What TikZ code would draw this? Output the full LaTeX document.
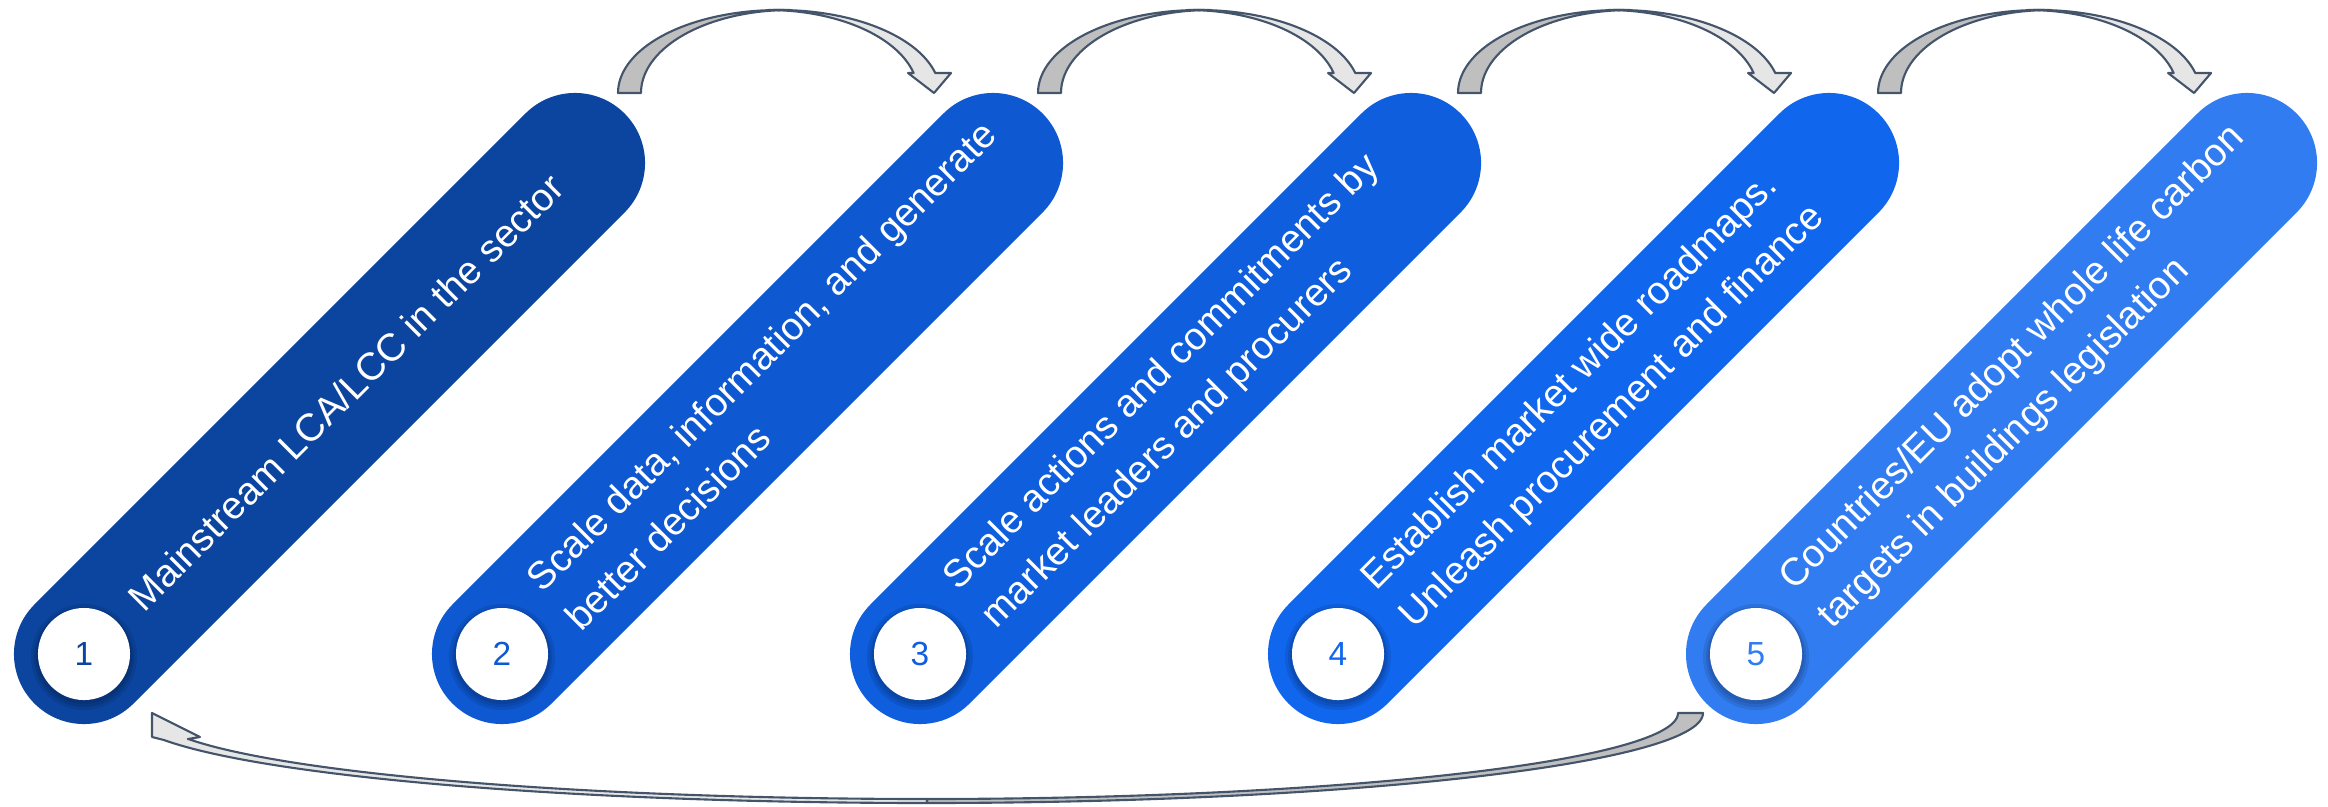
\documentclass[tikz,border=0pt]{standalone}
\usepackage{fontspec}
\setmainfont{Liberation Sans}
\definecolor{p1}{HTML}{0B45A0}
\definecolor{p2}{HTML}{0E58D2}
\definecolor{p3}{HTML}{0E5EDE}
\definecolor{p4}{HTML}{1166EE}
\definecolor{p5}{HTML}{317CF0}
\definecolor{arrline}{HTML}{44546A}
\definecolor{arrdark}{HTML}{BFBFBF}
\definecolor{arrlight}{HTML}{E7E6E6}
\begin{document}
\begin{tikzpicture}[x=0.01cm,y=-0.01cm,
  pill/.style={line width=1.4cm, line cap=round},
  numcirc/.style={circle, fill=white, minimum size=0.92cm, inner sep=0pt, font=\fontsize{9.5}{10}\selectfont},
  steptext/.style={anchor=west, rotate=45, align=left, text=white, inner sep=0pt, font=\fontsize{11}{15.6}\selectfont},
  shad/.style={fill=black, opacity=0.09},
  ribbon/.style={draw=arrline, line width=0.6pt, line join=round}]
\useasboundingbox (0,0) rectangle (2328,806);

% pill axes
\coordinate (b1) at (84,654);   \coordinate (t1) at (575,163);
\coordinate (b2) at (502,654);  \coordinate (t2) at (993,163);
\coordinate (b3) at (920,654);  \coordinate (t3) at (1411,163);
\coordinate (b4) at (1338,654); \coordinate (t4) at (1829,163);
\coordinate (b5) at (1756,654); \coordinate (t5) at (2247,163);

\draw[pill, p1] (b1) -- (t1);
\draw[pill, p2] (b2) -- (t2);
\draw[pill, p3] (b3) -- (t3);
\draw[pill, p4] (b4) -- (t4);
\draw[pill, p5] (b5) -- (t5);

% circle shadows
\foreach \b in {b1,b2,b3,b4,b5}{
  \fill[shad] ([yshift=-0.03cm]\b) circle[radius=0.53cm];
  \fill[shad] ([yshift=-0.03cm]\b) circle[radius=0.50cm];
  \fill[shad] ([yshift=-0.02cm]\b) circle[radius=0.48cm];
}

\node[numcirc, text=p1] (c1) at (b1) {1};
\node[numcirc, text=p2] (c2) at (b2) {2};
\node[numcirc, text=p3] (c3) at (b3) {3};
\node[numcirc, text=p4] (c4) at (b4) {4};
\node[numcirc, text=p5] (c5) at (b5) {5};

\node[steptext] (s1) at ([shift={(50,-50)}]b1) {Mainstream LCA/LCC in the sector};
\node[steptext] (s2) at ([shift={(50,-50)}]b2) {Scale data, information, and generate\\better decisions};
\node[steptext] (s3) at ([shift={(50,-50)}]b3) {Scale actions and commitments by\\market leaders and procurers};
\node[steptext] (s4) at ([shift={(50,-50)}]b4) {Establish market wide roadmaps.\\Unleash procurement and finance};
\node[steptext] (s5) at ([shift={(50,-50)}]b5) {Countries/EU adopt whole life carbon\\targets in buildings legislation};

% top curved arrows
\foreach \d in {0,420,840,1260}{
  \begin{scope}[shift={(\d,0)}]
    \filldraw[ribbon, fill=arrlight]
      plot[domain=270:346.06, samples=50] ({779+161*cos(\x)}, {93+83*sin(\x)})
      -- (951,73) -- (934,93) -- (908,73)
      -- plot[domain=346.06:270, samples=50] ({768+150*cos(\x)}, {93+83*sin(\x)}) -- cycle;
    \filldraw[ribbon, fill=arrdark]
      plot[domain=180:270, samples=50] ({779+161*cos(\x)}, {93+83*sin(\x)})
      -- plot[domain=270:180, samples=50] ({790+149*cos(\x)}, {93+83*sin(\x)}) -- cycle;
  \end{scope}
}

% bottom return arrow
\filldraw[ribbon, fill=arrdark]
  plot[domain=0:90, samples=80] ({927+776*cos(\x)}, {713+90*sin(\x)})
  -- plot[domain=90:0, samples=80] ({927+751*cos(\x)}, {713+86*sin(\x)}) -- cycle;
\filldraw[ribbon, fill=arrlight]
  plot[domain=90:162.54, samples=80] ({927+800*cos(\x)}, {713+90*sin(\x)})
  -- (152,737) -- (152,713) -- (200,737) -- (188,739)
  -- plot[domain=162.5:90, samples=80] ({927+775*cos(\x)}, {713+86*sin(\x)}) -- cycle;
\end{tikzpicture}
\end{document}
